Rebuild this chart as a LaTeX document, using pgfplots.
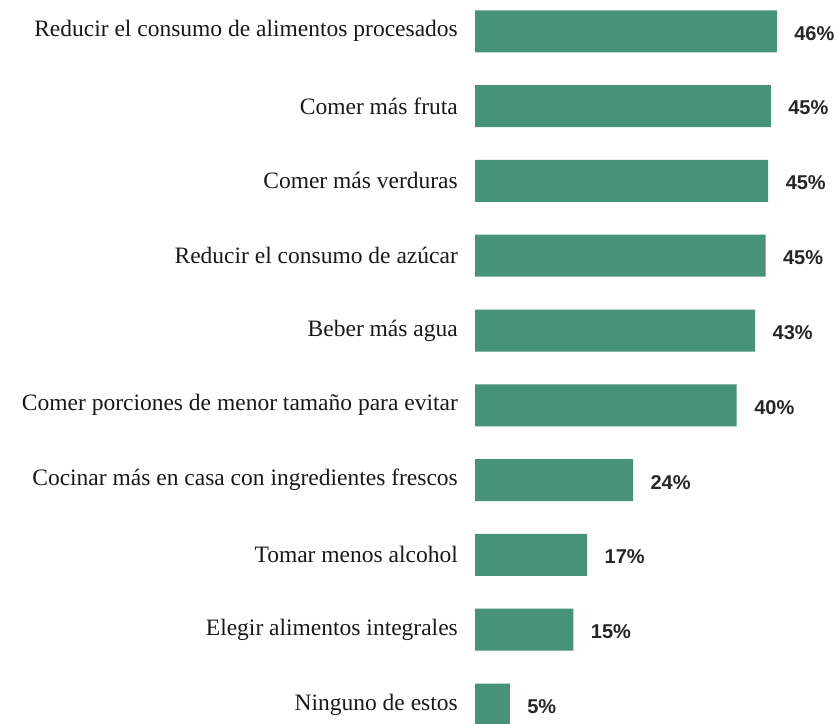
\documentclass[border=0pt]{standalone}
\usepackage{fontspec}
\setmainfont{Liberation Serif}
\newfontfamily\valfont{Liberation Sans}
\usepackage{pgfplots}
\pgfplotsset{compat=1.18}
\usepackage{pgfplotstable}
\definecolor{barg}{RGB}{70,147,122}
\pgfplotstableread{
y x lab
0 46.0 46
1 45.1 45
2 44.7 45
3 44.3 45
4 42.7 43
5 39.9 40
6 24.1 24
7 17.1 17
8 15.0 15
9 5.3 5
}\data
\begin{document}
\begin{tikzpicture}
\useasboundingbox (0,0) rectangle (837bp,724bp);
\clip (0,0) rectangle (837bp,724bp);
\begin{axis}[
  at={(475bp,-17.9bp)}, anchor=south west,
  scale only axis, width=328bp, height=748bp,
  xmin=0, xmax=50, ymin=-0.5, ymax=9.5, y dir=reverse,
  xbar, bar width=42bp, bar shift=0pt,
  axis line style={draw=none}, major tick length=0pt,
  xtick=\empty, ytick={0,...,9},
  yticklabels={Reducir el consumo de alimentos procesados,
    Comer más fruta, Comer más verduras, Reducir el consumo de azúcar,
    Beber más agua, Comer porciones de menor tamaño para evitar,
    Cocinar más en casa con ingredientes frescos, Tomar menos alcohol,
    Elegir alimentos integrales, Ninguno de estos},
  yticklabel style={font=\fontsize{23.5bp}{25bp}\selectfont, anchor=east, inner sep=0pt, xshift=-17bp, text=black!90},
  clip=false,
  point meta=explicit,
  /pgf/number format/assume math mode=true,
  nodes near coords={\pgfmathprintnumber{\pgfplotspointmeta}\%},
  nodes near coords style={font=\valfont\bfseries\fontsize{20bp}{22bp}\selectfont, anchor=west, xshift=14bp, yshift=-2bp, text=black!85},
]
\addplot[fill=barg, draw=none] table[x=x, y=y, meta=lab] {\data};
\end{axis}
\end{tikzpicture}
\end{document}
